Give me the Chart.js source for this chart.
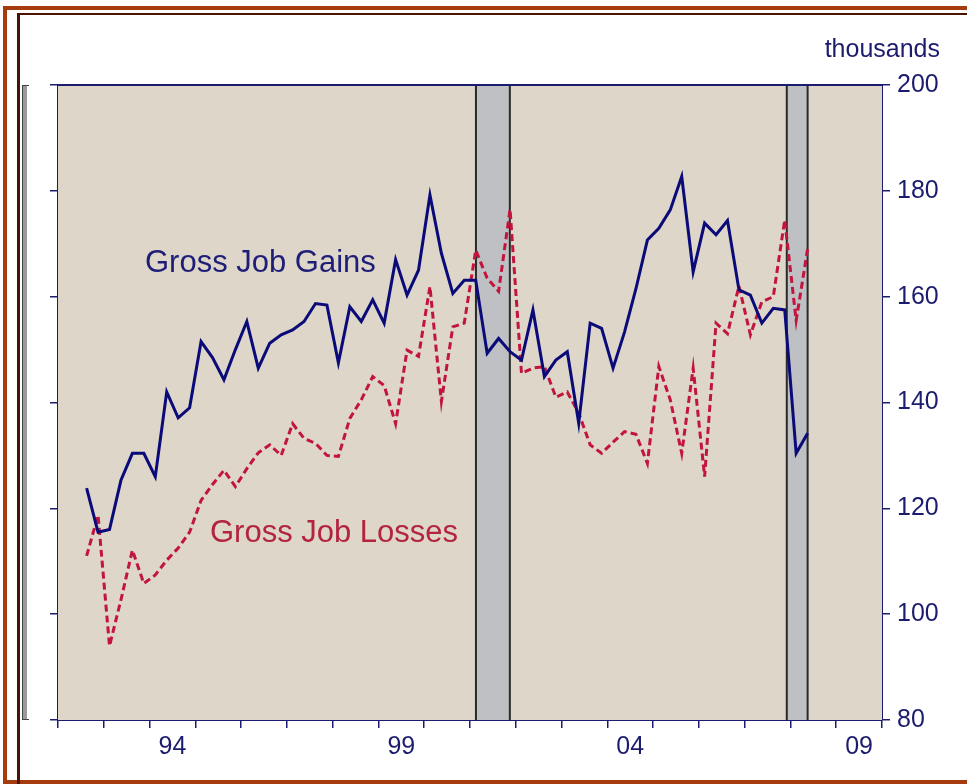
<!DOCTYPE html>
<html>
<head>
<meta charset="utf-8">
<title>Gross Job Gains and Losses</title>
<script src="https://cdn.jsdelivr.net/npm/chart.js@4.4.0/dist/chart.umd.min.js"></script>
<style>
    html, body { margin: 0; padding: 0; background: #fff; }
    #wrap { position: relative; width: 967px; height: 784px; overflow: hidden; background: #fff; }
    #chart-box { position: absolute; left: 0; top: 0; width: 967px; height: 784px; }
    /* picture frame */
    .frame-outer { position: absolute; left: 3px; top: 6px; width: 990px; height: 770px;
        border-top: 4px solid #a63c0e; border-left: 4px solid #a63c0e; border-bottom: 4px solid #a63c0e; }
    .frame-inner { position: absolute; left: 17px; top: 13px; width: 980px; height: 780px;
        border-top: 2px solid #4a1200; border-left: 3px solid #4a1200; }
    /* leftover bracket left of the plot */
    .bracket { position: absolute; left: 22px; top: 85px; width: 4px; height: 633px;
        background: #9a9a9a; border: 1px solid #444; border-right: none; }
    .bracket::before, .bracket::after { content: ''; position: absolute; left: 0; width: 6px; height: 1px; background: #444; }
    .bracket::before { top: -1px; }
    .bracket::after { bottom: -1px; }
</style>
</head>
<body>
<div id="wrap">
    <div class="frame-outer"></div>
    <div class="frame-inner"></div>
    <div class="bracket"></div>
    <div id="chart-box"><canvas id="chart"></canvas></div>
</div>
<script>
// --- Data (thousands) ---
const quarters = [
    '1992Q3', '1992Q4',
    '1993Q1', '1993Q2', '1993Q3', '1993Q4',
    '1994Q1', '1994Q2', '1994Q3', '1994Q4',
    '1995Q1', '1995Q2', '1995Q3', '1995Q4',
    '1996Q1', '1996Q2', '1996Q3', '1996Q4',
    '1997Q1', '1997Q2', '1997Q3', '1997Q4',
    '1998Q1', '1998Q2', '1998Q3', '1998Q4',
    '1999Q1', '1999Q2', '1999Q3', '1999Q4',
    '2000Q1', '2000Q2', '2000Q3', '2000Q4',
    '2001Q1', '2001Q2', '2001Q3', '2001Q4',
    '2002Q1', '2002Q2', '2002Q3', '2002Q4',
    '2003Q1', '2003Q2', '2003Q3', '2003Q4',
    '2004Q1', '2004Q2', '2004Q3', '2004Q4',
    '2005Q1', '2005Q2', '2005Q3', '2005Q4',
    '2006Q1', '2006Q2', '2006Q3', '2006Q4',
    '2007Q1', '2007Q2', '2007Q3', '2007Q4',
    '2008Q1', '2008Q2'
];

const grossJobGains = [
    123.8, 115.5,
    116.0, 125.3, 130.4, 130.4,
    126.0, 142.0, 137.1, 139.0,
    151.5, 148.5, 144.3, 150.0,
    155.3, 146.5, 151.2, 152.8,
    153.7, 155.3, 158.7, 158.4,
    147.5, 158.1, 155.3, 159.4,
    155.0, 167.0, 160.3, 165.0,
    179.2, 168.2, 160.6, 163.1,
    163.1, 149.3, 152.1, 149.6,
    148.0, 157.5, 144.9, 148.0,
    149.6, 136.1, 155.0, 154.0,
    146.5, 153.3, 161.5, 170.7,
    172.9, 176.4, 182.7, 164.7,
    173.9, 171.7, 174.4, 161.3,
    160.3, 155.0, 157.8, 157.5,
    130.4, 134.2
];

const grossJobLosses = [
    111.0, 118.7,
    94.0, 102.7, 112.1, 105.8,
    107.4, 110.2, 112.5, 115.5,
    121.5, 124.5, 127.2, 124.1,
    127.5, 130.5, 132.0, 130.0,
    136.0, 133.2, 132.3, 130.0,
    129.8, 137.0, 140.5, 144.9,
    143.2, 136.0, 149.9, 148.7,
    161.9, 140.2, 154.3, 155.0,
    168.8, 163.5, 161.0, 176.5,
    145.5, 146.5, 146.8, 141.0,
    142.0, 138.0, 132.0, 130.4,
    132.5, 134.5, 134.0, 128.5,
    146.8, 140.5, 130.4, 146.5,
    126.0, 155.0, 153.0, 162.0,
    152.8, 159.0, 160.0, 174.5,
    155.5, 169.0
];

// recession periods, decimal years
const recessionStart = [2001.13, 2007.92];
const recessionEnd = [2001.87, 2008.375];

// x axis: a tick every year, labels on some of them
const yearTicks = [];
for (let y = 1992; y <= 2010; y++) yearTicks.push(y);
const labelYears = [1994, 1999, 2004, 2009];
const labelText = ['94', '99', '04', '09'];

const yTicksMin = 80, yTicksMax = 200, yTicksStep = 20;

// --- Layout / style ---
const NAVY = '#1c1c6e';
const GAIN_COLOR = '#0a0a78';
const LOSS_COLOR = '#c2143d';
const PLOT_BG = '#ddd6c9';
const FONT = '"Liberation Sans", Arial, sans-serif';

const PLOT = { left: 58, right: 882, top: 85, bottom: 720 };
const W = 967, H = 784;

function quarterToYear(q) {
    const year = parseInt(q.slice(0, 4), 10);
    const qn = parseInt(q.slice(5), 10);
    return year + (qn - 0.5) / 4;
}

const toPoints = (vals) => vals.map((v, i) => ({ x: quarterToYear(quarters[i]), y: v }));

// --- Plugins ---
const plotBackground = {
    id: 'plotBackground',
    beforeDatasetsDraw(chart) {
        const { ctx, chartArea: a, scales } = chart;
        ctx.save();
        ctx.fillStyle = PLOT_BG;
        ctx.fillRect(a.left, a.top, a.right - a.left, a.bottom - a.top);

        // recession bands
        const x = scales.x;
        recessionStart.forEach((s, i) => {
            const x0 = x.getPixelForValue(s);
            const x1 = x.getPixelForValue(recessionEnd[i]);
            ctx.fillStyle = '#bfc0c3';
            ctx.fillRect(x0, a.top, x1 - x0, a.bottom - a.top);
            ctx.strokeStyle = '#2a2a2a';
            ctx.lineWidth = 2;
            ctx.beginPath();
            ctx.moveTo(x0, a.top); ctx.lineTo(x0, a.bottom);
            ctx.moveTo(x1, a.top); ctx.lineTo(x1, a.bottom);
            ctx.stroke();
        });
        ctx.restore();
    },
    afterDatasetsDraw(chart) {
        const { ctx, chartArea: a, scales } = chart;
        const x = scales.x, y = scales.yR;
        ctx.save();
        // top border of the plot
        ctx.strokeStyle = NAVY;
        ctx.lineWidth = 2;
        ctx.beginPath();
        ctx.moveTo(a.left, a.top); ctx.lineTo(a.right, a.top);
        ctx.stroke();

        ctx.font = '31px ' + FONT;
        ctx.textBaseline = 'middle';
        ctx.textAlign = 'left';
        ctx.fillStyle = '#1e1e78';
        ctx.fillText('Gross Job Gains', x.getPixelForValue(1993.9), y.getPixelForValue(166.2));
        ctx.fillStyle = '#b3243f';
        ctx.fillText('Gross Job Losses', x.getPixelForValue(1995.32), y.getPixelForValue(115.3));

        ctx.font = '25px ' + FONT;
        ctx.fillStyle = NAVY;
        ctx.textAlign = 'right';
        ctx.fillText('thousands', a.right + 58, 50);
        ctx.restore();
    }
};

// --- Chart ---
const halfYearPx = (PLOT.right - PLOT.left) / (2010 - 1992) / 2;

new Chart(document.getElementById('chart'), {
    type: 'line',
    data: {
        datasets: [
            {
                label: 'Gross Job Gains',
                data: toPoints(grossJobGains),
                borderColor: GAIN_COLOR,
                borderWidth: 3,
                pointRadius: 0,
                tension: 0,
                yAxisID: 'yR'
            },
            {
                label: 'Gross Job Losses',
                data: toPoints(grossJobLosses),
                borderColor: LOSS_COLOR,
                borderWidth: 3,
                borderDash: [7, 4],
                pointRadius: 0,
                tension: 0,
                yAxisID: 'yR'
            }
        ]
    },
    options: {
        responsive: true,
        maintainAspectRatio: false,
        animation: false,
        events: [],
        layout: { padding: { left: 0, right: 0, top: PLOT.top, bottom: 0 } },
        plugins: {
            legend: { display: false },
            tooltip: { enabled: false },
            title: { display: false }
        },
        scales: {
            x: {
                type: 'linear',
                position: 'bottom',
                min: 1992,
                max: 2010,
                afterFit: (s) => { s.height = H - PLOT.bottom; },
                afterBuildTicks: (s) => { s.ticks = yearTicks.map(v => ({ value: v })); },
                ticks: {
                    autoSkip: false,
                    maxRotation: 0,
                    labelOffset: halfYearPx,
                    padding: 4,
                    color: NAVY,
                    font: { family: FONT, size: 25 },
                    callback: (v) => {
                        const i = labelYears.indexOf(v);
                        return i >= 0 ? labelText[i] : '';
                    }
                },
                grid: { drawOnChartArea: false, drawTicks: true, tickLength: 8, color: NAVY, lineWidth: 1.5 },
                border: { color: NAVY, width: 2 }
            },
            yL: {
                type: 'linear',
                position: 'left',
                min: yTicksMin,
                max: yTicksMax,
                afterFit: (s) => { s.width = PLOT.left; },
                ticks: { stepSize: yTicksStep, callback: () => '' },
                grid: { drawOnChartArea: false, drawTicks: true, tickLength: 8, color: NAVY, lineWidth: 1.5 },
                border: { color: NAVY, width: 2 }
            },
            yR: {
                type: 'linear',
                position: 'right',
                min: yTicksMin,
                max: yTicksMax,
                afterFit: (s) => { s.width = W - PLOT.right; },
                ticks: {
                    stepSize: yTicksStep,
                    padding: 7,
                    color: NAVY,
                    font: { family: FONT, size: 25 }
                },
                grid: { drawOnChartArea: false, drawTicks: true, tickLength: 8, color: NAVY, lineWidth: 1.5 },
                border: { color: NAVY, width: 2 }
            }
        }
    },
    plugins: [plotBackground]
});
</script>
</body>
</html>
